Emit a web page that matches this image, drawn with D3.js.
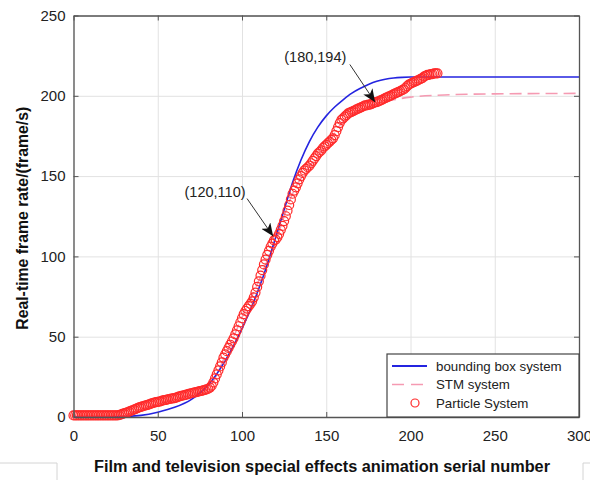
<!DOCTYPE html>
<html>
<head>
<meta charset="utf-8">
<script src="https://cdn.jsdelivr.net/npm/d3@7"></script>
<style>
body { margin: 0; background: #fff; }
text { font-family: "Liberation Sans", Arial, sans-serif; }
</style>
</head>
<body>
<svg id="chart" width="590" height="480"></svg>
<script>
var xTicks = [0, 50, 100, 150, 200, 250, 300];
var yTicks = [0, 50, 100, 150, 200, 250];

// particle system, one value per serial number 0..216
var particleY = [
  1, 1, 1, 1, 1, 1, 1, 1, 1, 1,
  1, 1, 1, 1, 1, 1, 1, 1, 1, 1,
  1, 1, 1, 1, 1, 1, 1, 1.2, 1.5, 1.9,
  2.3, 2.6, 2.9, 3.3, 3.8, 4.2, 4.6, 5.0, 5.5, 6.0,
  6.3, 6.6, 7.0, 7.3, 7.5, 7.8, 8.3, 8.6, 8.9, 9.2,
  9.4, 9.6, 9.9, 10.3, 10.5, 10.7, 11.0, 11.2, 11.4, 11.6,
  11.8, 12.1, 12.5, 12.9, 13.2, 13.4, 13.6, 13.9, 14.2, 14.5,
  14.8, 15.1, 15.3, 15.5, 15.8, 16.1, 16.3, 16.6, 16.9, 17.2,
  17.6, 18.3, 19.5, 21.5, 24, 26.5, 29, 31.5, 34, 37,
  39, 41, 43, 45, 47, 49, 51.5, 54, 56.5, 59,
  61.5, 64, 66, 67.5, 69, 70.5, 72, 74.5, 77.5, 81,
  84.5, 88, 91.5, 95, 98, 101, 103.5, 106, 108, 110,
  110.5, 112, 114, 116.5, 119, 122, 125, 128.5, 132, 135.5,
  139, 141, 143, 145.5, 148, 150, 152, 153.5, 154.5, 155.5,
  156.5, 158, 159.5, 161, 162.5, 164, 165, 166, 167.5, 168.5,
  169.5, 170.5, 171.5, 172.5, 173.5, 175.5, 178, 180.5, 183, 185,
  186, 187, 188, 189, 189.5, 190, 190.5, 191, 191.5, 192,
  192.5, 193, 193.5, 194, 194, 194.5, 194.5, 195, 195.5, 196,
  196, 196.5, 197, 197.5, 198, 198.5, 199, 199.5, 200, 200.5,
  201, 201.5, 202, 202.5, 203, 203.5, 204, 205, 206, 207,
  207.5, 208, 208.5, 209, 209.5, 210, 210.5, 211, 212, 212.5,
  213, 213, 213.5, 213.5, 214, 214, 214
];

var boxX = [0, 20, 30, 40, 50, 60, 70, 80, 90, 100, 110, 115, 120, 125, 130, 135, 140, 145, 150, 155, 160, 165, 170, 175, 180, 185, 190, 195, 200, 220, 250, 300];
var boxY = [0, 0, 0.3, 1, 3, 6, 11, 20, 35, 55, 80, 95, 112, 129, 146, 160, 171.5, 180.5, 187.5, 193, 197.5, 201.5, 204.5, 207, 209, 210.3, 211.1, 211.5, 211.7, 211.7, 211.7, 211.7];

var stmX = [0, 20, 30, 40, 50, 60, 70, 80, 90, 100, 110, 120, 130, 140, 150, 160, 170, 180, 190, 200, 220, 250, 300];
var stmY = [0, 0, 1, 4, 8, 11, 14, 18, 38, 62, 85, 110, 139, 156, 169, 184, 191, 195, 197.5, 199.2, 200.5, 201.2, 201.5];

var notes = [
  { label: "(120,110)", tx: 84, ty: 140, fromX: 103, fromY: 136, toX: 118.5, toY: 112.5 },
  { label: "(180,194)", tx: 143.5, ty: 224, fromX: 164, fromY: 219.5, toX: 179, toY: 196 }
];

var legendItems = ["bounding box system", "STM system", "Particle System"];

var svg = d3.select("#chart");
var mLeft = 73.5, mRight = 579, mTop = 15.5, mBottom = 417;

var x = d3.scaleLinear().domain([0, 300]).range([mLeft, mRight]);
var y = d3.scaleLinear().domain([0, 250]).range([mBottom, mTop]);

// screenshot frame remnants
svg.append("path").attr("d", "M0,463H57V480").attr("fill", "none").attr("stroke", "#d4d4d4");
svg.append("path").attr("d", "M590,463H583V480").attr("fill", "none").attr("stroke", "#d4d4d4");

// grid
svg.append("g")
    .attr("transform", "translate(0," + mBottom + ")")
    .call(d3.axisBottom(x).tickValues(xTicks).tickSize(-(mBottom - mTop)).tickFormat(""))
    .call(function (g) {
      g.select(".domain").remove();
      g.selectAll("line").attr("stroke", "#e2e2e2").attr("stroke-width", 1);
    });
svg.append("g")
    .attr("transform", "translate(" + mLeft + ",0)")
    .call(d3.axisLeft(y).tickValues(yTicks).tickSize(-(mRight - mLeft)).tickFormat(""))
    .call(function (g) {
      g.select(".domain").remove();
      g.selectAll("line").attr("stroke", "#e2e2e2").attr("stroke-width", 1);
    });

// curves
var boxLine = d3.line()
    .x(function (d, i) { return x(boxX[i]); })
    .y(function (d) { return y(d); })
    .curve(d3.curveMonotoneX);
var stmLine = d3.line()
    .x(function (d, i) { return x(stmX[i]); })
    .y(function (d) { return y(d); })
    .curve(d3.curveMonotoneX);

svg.append("path")
    .attr("d", stmLine(stmY))
    .attr("fill", "none")
    .attr("stroke", "#f59ab2")
    .attr("stroke-width", 1.6)
    .attr("stroke-dasharray", "12,6");

svg.append("path")
    .attr("d", boxLine(boxY))
    .attr("fill", "none")
    .attr("stroke", "#2424e0")
    .attr("stroke-width", 1.6);

svg.append("g").selectAll("circle")
    .data(particleY)
    .enter().append("circle")
    .attr("cx", function (d, i) { return x(i); })
    .attr("cy", function (d) { return y(d); })
    .attr("r", 4.5)
    .attr("fill", "none")
    .attr("stroke", "#ff2a2a")
    .attr("stroke-width", 1.2);

// axes with inward ticks, box on
function styleAxis(g) {
  g.select(".domain").attr("stroke", "#555").attr("stroke-width", 1.3);
  g.selectAll(".tick line").attr("stroke", "#555");
  g.selectAll("text").attr("fill", "#222").style("font-size", "15px");
}
svg.append("g")
    .attr("transform", "translate(0," + mBottom + ")")
    .call(d3.axisBottom(x).tickValues(xTicks).tickSizeInner(-5).tickSizeOuter(0).tickPadding(13))
    .call(styleAxis);
svg.append("g")
    .attr("transform", "translate(0," + mTop + ")")
    .call(d3.axisTop(x).tickValues(xTicks).tickSizeInner(-5).tickSizeOuter(0).tickFormat(""))
    .call(styleAxis);
svg.append("g")
    .attr("transform", "translate(" + mLeft + ",0)")
    .call(d3.axisLeft(y).tickValues(yTicks).tickSizeInner(-5).tickSizeOuter(0).tickPadding(8))
    .call(styleAxis);
svg.append("g")
    .attr("transform", "translate(" + mRight + ",0)")
    .call(d3.axisRight(y).tickValues(yTicks).tickSizeInner(-5).tickSizeOuter(0).tickFormat(""))
    .call(styleAxis);

// annotations
svg.append("defs").append("marker")
    .attr("id", "head")
    .attr("viewBox", "0 0 13 11")
    .attr("refX", 13).attr("refY", 5.5)
    .attr("markerWidth", 13).attr("markerHeight", 11)
    .attr("markerUnits", "userSpaceOnUse")
    .attr("orient", "auto")
    .append("path")
    .attr("d", "M0,0L13,5.5L0,11L3.5,5.5Z")
    .attr("fill", "#111");

var ann = svg.append("g").selectAll("g").data(notes).enter().append("g");
ann.append("line")
    .attr("x1", function (d) { return x(d.fromX); })
    .attr("y1", function (d) { return y(d.fromY); })
    .attr("x2", function (d) { return x(d.toX); })
    .attr("y2", function (d) { return y(d.toY); })
    .attr("stroke", "#333")
    .attr("stroke-width", 1)
    .attr("marker-end", "url(#head)");
ann.append("text")
    .attr("x", function (d) { return x(d.tx); })
    .attr("y", function (d) { return y(d.ty); })
    .attr("dy", "0.35em")
    .attr("text-anchor", "middle")
    .style("font-size", "14.5px")
    .attr("fill", "#222")
    .text(function (d) { return d.label; });

// legend
var lg = svg.append("g").attr("transform", "translate(387,354)");
lg.append("rect")
    .attr("width", mRight - 387).attr("height", mBottom - 354)
    .attr("fill", "#fff").attr("stroke", "#444").attr("stroke-width", 1.2);
var rows = lg.selectAll("g").data(legendItems).enter().append("g")
    .attr("transform", function (d, i) { return "translate(0," + (12 + i * 18.5) + ")"; });
rows.append("text")
    .attr("x", 49).attr("dy", "0.35em")
    .style("font-size", "13.3px")
    .attr("fill", "#222")
    .text(function (d) { return d; });
lg.append("line").attr("x1", 5).attr("x2", 40).attr("y1", 12).attr("y2", 12)
    .attr("stroke", "#2424e0").attr("stroke-width", 2.2);
lg.append("line").attr("x1", 5).attr("x2", 40).attr("y1", 30.5).attr("y2", 30.5)
    .attr("stroke", "#f59ab2").attr("stroke-width", 1.6).attr("stroke-dasharray", "12,7");
lg.append("circle").attr("cx", 28).attr("cy", 49).attr("r", 4)
    .attr("fill", "none").attr("stroke", "#ff2a2a").attr("stroke-width", 1.2);

// axis titles
svg.append("text")
    .attr("transform", "translate(22," + ((mTop + mBottom) / 2 + 2) + ") rotate(-90)")
    .attr("text-anchor", "middle")
    .attr("dy", "0.35em")
    .style("font-size", "15.8px")
    .style("font-weight", "bold")
    .attr("fill", "#111")
    .text("Real-time frame rate/(frame/s)");
svg.append("text")
    .attr("x", 322).attr("y", 472)
    .attr("text-anchor", "middle")
    .style("font-size", "16.3px")
    .style("font-weight", "bold")
    .attr("fill", "#111")
    .text("Film and television special effects animation serial number");
</script>
</body>
</html>
